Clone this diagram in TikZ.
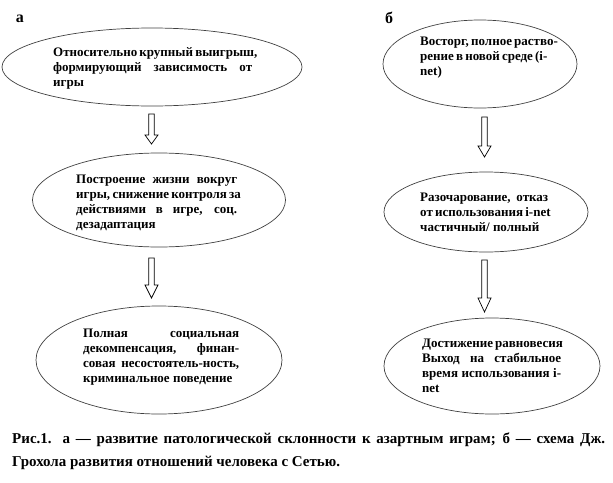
\documentclass[tikz,border=0pt]{standalone}
\usepackage{fontspec}
\setmainfont{Liberation Serif}[BoldFont={Liberation Serif Bold}]
\usetikzlibrary{shapes.geometric}
\newcommand\jline[2]{\makebox[#1][s]{#2}}
\newcommand\blockarrow[4]{%
  \draw[barrow] ({#1-2.8},#2) -- ({#1+2.8},#2) -- ({#1+2.8},{#3-#4}) -- ({#1+6.5},{#3-#4}) -- (#1,#3)
    -- ({#1-6.5},{#3-#4}) -- ({#1-2.8},{#3-#4}) -- cycle;}
\begin{document}
\begin{tikzpicture}[x=1pt,y=-1pt,
  ell/.style={draw=black!75, line width=0.7pt, ellipse, inner sep=0pt},
  txt/.style={anchor=north west, inner sep=0pt, align=left,
    font=\bfseries\fontsize{13}{15}\selectfont},
  barrow/.style={draw=black, line width=0.7pt, fill=white},
  lbl/.style={inner sep=0pt, font=\bfseries\fontsize{16}{18}\selectfont},
  captxt/.style={anchor=north west, inner sep=0pt, align=left,
    font=\bfseries\fontsize{15}{23}\selectfont}]
\useasboundingbox (0,0) rectangle (613,482);
% labels
\node[lbl] (la) at (20,19) {а};
\node[lbl] (lb) at (389,18) {б};
% left column
\node[ell, minimum width=300pt, minimum height=78pt] (e1) at (152,67) {};
\node[txt] (t1) at (53,47) {\jline{199pt}{Относительно крупный выигрыш,}\\
  \jline{199pt}{формирующий зависимость от}\\ игры};
\node[ell, minimum width=253pt, minimum height=94pt] (e2) at (159,200) {};
\node[txt] (t2) at (76,175) {\jline{161pt}{Построение жизни вокруг}\\
  \jline{161pt}{игры, снижение контроля за}\\
  \jline{161pt}{действиями в игре, соц.}\\ дезадаптация};
\node[ell, minimum width=246pt, minimum height=108pt] (e3) at (159,360) {};
\node[txt] (t3) at (83,329) {\jline{156pt}{Полная социальная}\\
  \jline{156pt}{декомпенсация, финан-}\\
  \jline{156pt}{совая несостоятель-ность,}\\ криминальное поведение};
% right column
\node[ell, minimum width=194pt, minimum height=88pt] (f1) at (480,64) {};
\node[txt] (s1) at (420,37) {\jline{125pt}{Восторг, полное раство-}\\
  \jline{125pt}{рение в новой среде (i-}\\ net)};
\node[ell, minimum width=204pt, minimum height=80pt] (f2) at (486,212) {};
\node[txt] (s2) at (420,193) {\jline{128pt}{Разочарование, отказ}\\
  \jline{128pt}{от использования i-net}\\ частичный/ полный};
\node[ell, minimum width=216pt, minimum height=96pt] (f3) at (492,366) {};
\node[txt] (s3) at (422,339) {\jline{139pt}{Достижение равновесия}\\
  \jline{139pt}{Выход на стабильное}\\
  \jline{139pt}{время использования i-}\\ net};
% block arrows
\blockarrow{151.5}{114}{144}{9}
\blockarrow{151.5}{258}{298}{13}
\blockarrow{484.5}{117}{157}{11}
\blockarrow{484.5}{260}{312}{14}
% caption
\node[captxt] (cp) at (12,433) {\jline{593pt}{Рис.1. а — развитие патологической склонности к азартным играм; б — схема Дж.}\\
  Грохола развития отношений человека с Сетью.};
\end{tikzpicture}
\end{document}
